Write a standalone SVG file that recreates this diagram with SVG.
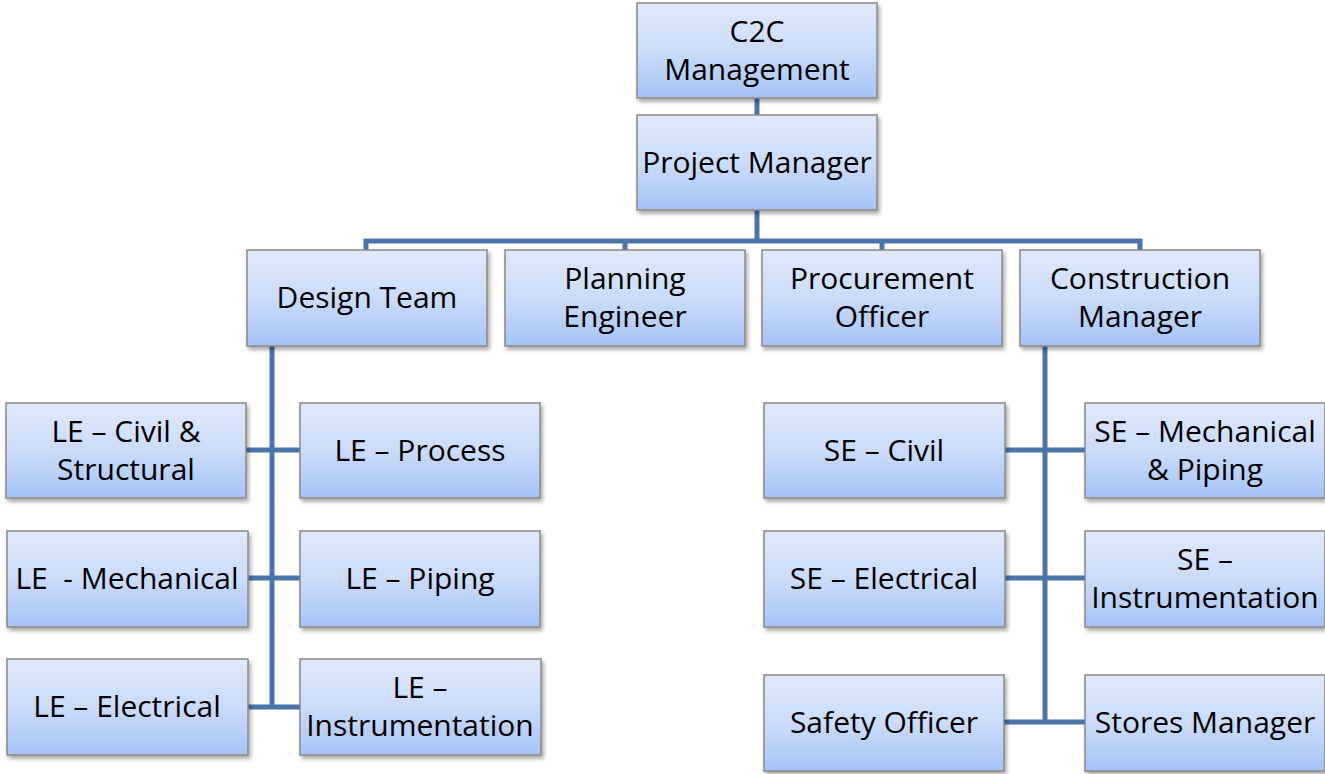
<svg xmlns="http://www.w3.org/2000/svg" width="1325" height="774" viewBox="0 0 1325 774">
<defs>
<linearGradient id="g" x1="0" y1="0" x2="0" y2="1">
<stop offset="0" stop-color="#dfe9fb"/>
<stop offset="0.5" stop-color="#cbdcf9"/>
<stop offset="1" stop-color="#a6c3f6"/>
</linearGradient>
<filter id="sh" x="-10%" y="-10%" width="125%" height="130%">
<feDropShadow dx="2" dy="3" stdDeviation="2" flood-color="#000" flood-opacity="0.35"/>
</filter>
</defs>
<style>
.box{fill:url(#g);stroke:#888;stroke-width:1.5;filter:url(#sh)}
.t{font-family:"Open Sans","Liberation Sans",sans-serif;font-size:30px;fill:#000;text-anchor:middle}
.c{fill:none;stroke:#4a74aa;stroke-width:5}
</style>
<rect width="1325" height="774" fill="#fff"/>
<g id="connectors">
<path class="c" d="M757 98V115"/>
<path class="c" d="M757 210V241"/>
<path class="c" d="M366 250V241H1140V250"/>
<path class="c" d="M625 241V250"/>
<path class="c" d="M882 241V250"/>
<path class="c" d="M272 346V707"/>
<path class="c" d="M246 450H300"/>
<path class="c" d="M248 578H300"/>
<path class="c" d="M248 707H300"/>
<path class="c" d="M1045 346V722"/>
<path class="c" d="M1005 450H1085"/>
<path class="c" d="M1005 578H1085"/>
<path class="c" d="M1004 722H1085"/>
</g>
<g id="c2c"><rect class="box" x="637" y="3" width="240" height="95"/><text class="t" x="757" y="42">C2C</text><text class="t" x="757" y="80">Management</text></g>
<g id="pm"><rect class="box" x="637" y="115" width="240" height="95"/><text class="t" x="757" y="173">Project Manager</text></g>
<g id="design"><rect class="box" x="247" y="250" width="240" height="96"/><text class="t" x="367" y="308">Design Team</text></g>
<g id="planning"><rect class="box" x="505" y="250" width="240" height="96"/><text class="t" x="625" y="289">Planning</text><text class="t" x="625" y="327">Engineer</text></g>
<g id="procurement"><rect class="box" x="762" y="250" width="240" height="96"/><text class="t" x="882" y="289">Procurement</text><text class="t" x="882" y="327">Officer</text></g>
<g id="construction"><rect class="box" x="1020" y="250" width="240" height="96"/><text class="t" x="1140" y="289">Construction</text><text class="t" x="1140" y="327">Manager</text></g>
<g id="le-civil"><rect class="box" x="6" y="403" width="240" height="95"/><text class="t" x="126" y="442">LE – Civil &amp;</text><text class="t" x="126" y="480">Structural</text></g>
<g id="le-process"><rect class="box" x="300" y="403" width="240" height="95"/><text class="t" x="420" y="461">LE – Process</text></g>
<g id="le-mech"><rect class="box" x="7" y="531" width="241" height="96"/><text class="t" x="127" y="589" xml:space="preserve">LE  - Mechanical</text></g>
<g id="le-piping"><rect class="box" x="300" y="531" width="240" height="96"/><text class="t" x="420" y="589">LE – Piping</text></g>
<g id="le-elec"><rect class="box" x="7" y="659" width="241" height="96"/><text class="t" x="127" y="717">LE – Electrical</text></g>
<g id="le-instr"><rect class="box" x="300" y="659" width="241" height="96"/><text class="t" x="420" y="698">LE –</text><text class="t" x="420" y="736">Instrumentation</text></g>
<g id="se-civil"><rect class="box" x="764" y="403" width="241" height="95"/><text class="t" x="884" y="461">SE – Civil</text></g>
<g id="se-mech"><rect class="box" x="1085" y="403" width="240" height="95"/><text class="t" x="1205" y="442">SE – Mechanical</text><text class="t" x="1205" y="480">&amp; Piping</text></g>
<g id="se-elec"><rect class="box" x="764" y="531" width="241" height="96"/><text class="t" x="884" y="589">SE – Electrical</text></g>
<g id="se-instr"><rect class="box" x="1085" y="531" width="240" height="96"/><text class="t" x="1205" y="570">SE –</text><text class="t" x="1205" y="608">Instrumentation</text></g>
<g id="safety"><rect class="box" x="764" y="675" width="240" height="96"/><text class="t" x="884" y="733">Safety Officer</text></g>
<g id="stores"><rect class="box" x="1085" y="675" width="240" height="96"/><text class="t" x="1205" y="733">Stores Manager</text></g>
</svg>
